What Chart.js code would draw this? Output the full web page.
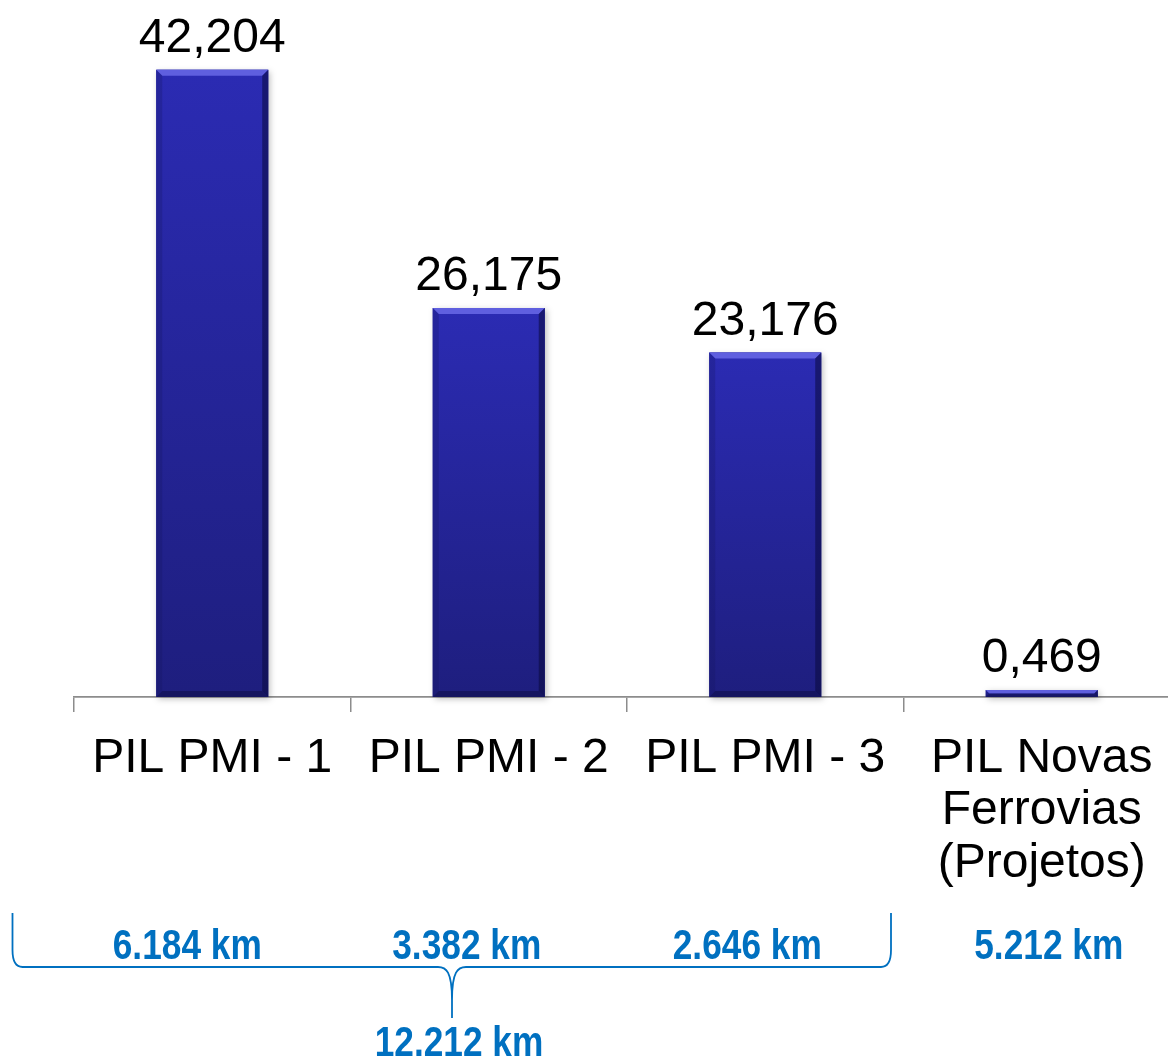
<!DOCTYPE html>
<html>
<head>
<meta charset="utf-8">
<script src="https://cdn.jsdelivr.net/npm/chart.js@4/dist/chart.umd.min.js"></script>
<style>
  html, body { margin: 0; padding: 0; background: #ffffff; overflow: hidden; }
  #wrap { position: relative; width: 1168px; height: 1059px; overflow: hidden; }
  #box { position: absolute; left: 0; top: 0; width: 1190px; height: 1059px; }
</style>
</head>
<body>
<div id="wrap"><div id="box"><canvas id="c" width="1190" height="1059"></canvas></div></div>
<script>
// ---- data ----
const categories = [
  ['PIL PMI - 1'],
  ['PIL PMI - 2'],
  ['PIL PMI - 3'],
  ['PIL Novas', 'Ferrovias', '(Projetos)']
];
const values = [42.204, 26.175, 23.176, 0.469];
const kmLabels = ['6.184 km', '3.382 km', '2.646 km', '5.212 km'];
const groupTotalLabel = '12.212 km';

const FONT = '"Liberation Sans", Arial, Helvetica, sans-serif';
const BLUE = '#0070C0';

function fmt(v) { return v.toFixed(3).replace('.', ','); }

const valueLabels = {
  id: 'valueLabels',
  afterDatasetsDraw(chart) {
    const ctx = chart.ctx;
    const meta = chart.getDatasetMeta(0);
    meta.data.forEach((el, i) => {
      const left = el.x - el.width / 2, right = el.x + el.width / 2;
      const top = el.y, bottom = el.base;
      const h = bottom - top;
      ctx.save();
      // soft shadow
      ctx.shadowColor = 'rgba(0,0,0,0.25)';
      ctx.shadowBlur = 6;
      ctx.shadowOffsetX = 2;
      ctx.shadowOffsetY = 2;
      const g = ctx.createLinearGradient(0, top, 0, bottom);
      g.addColorStop(0, '#2B2BB3');
      g.addColorStop(1, '#1E1E7E');
      ctx.fillStyle = g;
      ctx.fillRect(left, top, right - left, h);
      ctx.restore();
      ctx.save();
      const b = Math.min(6, h / 2);
      // top bevel (light)
      ctx.fillStyle = 'rgba(105,105,230,0.85)';
      ctx.beginPath();
      ctx.moveTo(left, top); ctx.lineTo(right, top);
      ctx.lineTo(right - b, top + b); ctx.lineTo(left + b, top + b);
      ctx.closePath(); ctx.fill();
      // right bevel (dark)
      ctx.fillStyle = 'rgba(10,10,60,0.55)';
      ctx.beginPath();
      ctx.moveTo(right, top); ctx.lineTo(right, bottom);
      ctx.lineTo(right - b, bottom - b); ctx.lineTo(right - b, top + b);
      ctx.closePath(); ctx.fill();
      // left bevel (subtle)
      ctx.fillStyle = 'rgba(20,20,90,0.25)';
      ctx.beginPath();
      ctx.moveTo(left, top); ctx.lineTo(left + b, top + b);
      ctx.lineTo(left + b, bottom - b); ctx.lineTo(left, bottom);
      ctx.closePath(); ctx.fill();
      // bottom bevel (dark)
      ctx.fillStyle = 'rgba(10,10,60,0.45)';
      ctx.beginPath();
      ctx.moveTo(left, bottom); ctx.lineTo(left + b, bottom - b);
      ctx.lineTo(right - b, bottom - b); ctx.lineTo(right, bottom);
      ctx.closePath(); ctx.fill();
      ctx.restore();

      // value label
      ctx.save();
      ctx.fillStyle = '#000000';
      ctx.font = '48px ' + FONT;
      ctx.textAlign = 'center';
      ctx.textBaseline = 'alphabetic';
      ctx.fillText(fmt(values[i]), el.x, el.y - 18);
      ctx.restore();
    });
  },
  afterDraw(chart) {
    const ctx = chart.ctx;
    const xs = chart.scales.x;
    // km labels (condensed bold)
    const offs = [-25, -22, -18, 7];
    ctx.save();
    ctx.fillStyle = BLUE;
    ctx.font = 'bold 43px ' + FONT;
    ctx.textAlign = 'center';
    ctx.textBaseline = 'alphabetic';
    kmLabels.forEach((t, i) => {
      const cx = xs.getPixelForValue(i) + offs[i];
      ctx.save();
      ctx.translate(cx, 959);
      ctx.scale(0.82, 1);
      ctx.fillText(t, 0, 0);
      ctx.restore();
    });
    ctx.save();
    ctx.translate(459, 1056);
    ctx.scale(0.82, 1);
    ctx.fillText(groupTotalLabel, 0, 0);
    ctx.restore();
    ctx.restore();

    // brace
    ctx.save();
    ctx.strokeStyle = BLUE;
    ctx.lineWidth = 1.8;
    ctx.beginPath();
    const yT = 913, yH = 967, xL = 12.5, xR = 891, xC = 452;
    ctx.moveTo(xL, yT);
    ctx.lineTo(xL, 950);
    ctx.bezierCurveTo(xL, 962, xL + 4, yH, xL + 10, yH);
    ctx.lineTo(xC - 14, yH);
    ctx.bezierCurveTo(xC - 6, yH, xC, yH + 4, xC, 1000);
    ctx.lineTo(xC, 1018);
    ctx.moveTo(xC, 1000);
    ctx.bezierCurveTo(xC, yH + 4, xC + 6, yH, xC + 14, yH);
    ctx.lineTo(xR - 10, yH);
    ctx.bezierCurveTo(xR - 4, yH, xR, 962, xR, 950);
    ctx.lineTo(xR, yT);
    ctx.stroke();
    ctx.restore();
  }
};

new Chart(document.getElementById('c'), {
  type: 'bar',
  data: {
    labels: categories,
    datasets: [{
      data: values,
      backgroundColor: '#2626A0',
      borderWidth: 0,
      categoryPercentage: 1.0,
      barPercentage: 0.405
    }]
  },
  options: {
    responsive: false,
    animation: false,
    devicePixelRatio: 1,
    layout: { padding: { left: 74, right: 10, top: 0, bottom: 0 } },
    plugins: { legend: { display: false }, tooltip: { enabled: false } },
    scales: {
      y: { display: false, min: 0, max: 46.9 },
      x: {
        afterFit(scale) { scale.height = 362; },
        border: { display: true, color: '#8C8C8C', width: 1.8 },
        grid: { display: true, drawOnChartArea: false, drawTicks: true, tickLength: 15, color: '#8C8C8C', lineWidth: 1.5, offset: true },
        ticks: {
          color: '#000000',
          font: { family: FONT, size: 48, lineHeight: 1.1 },
          padding: 20,
          maxRotation: 0,
          autoSkip: false
        }
      }
    }
  },
  plugins: [valueLabels]
});
</script>
</body>
</html>
